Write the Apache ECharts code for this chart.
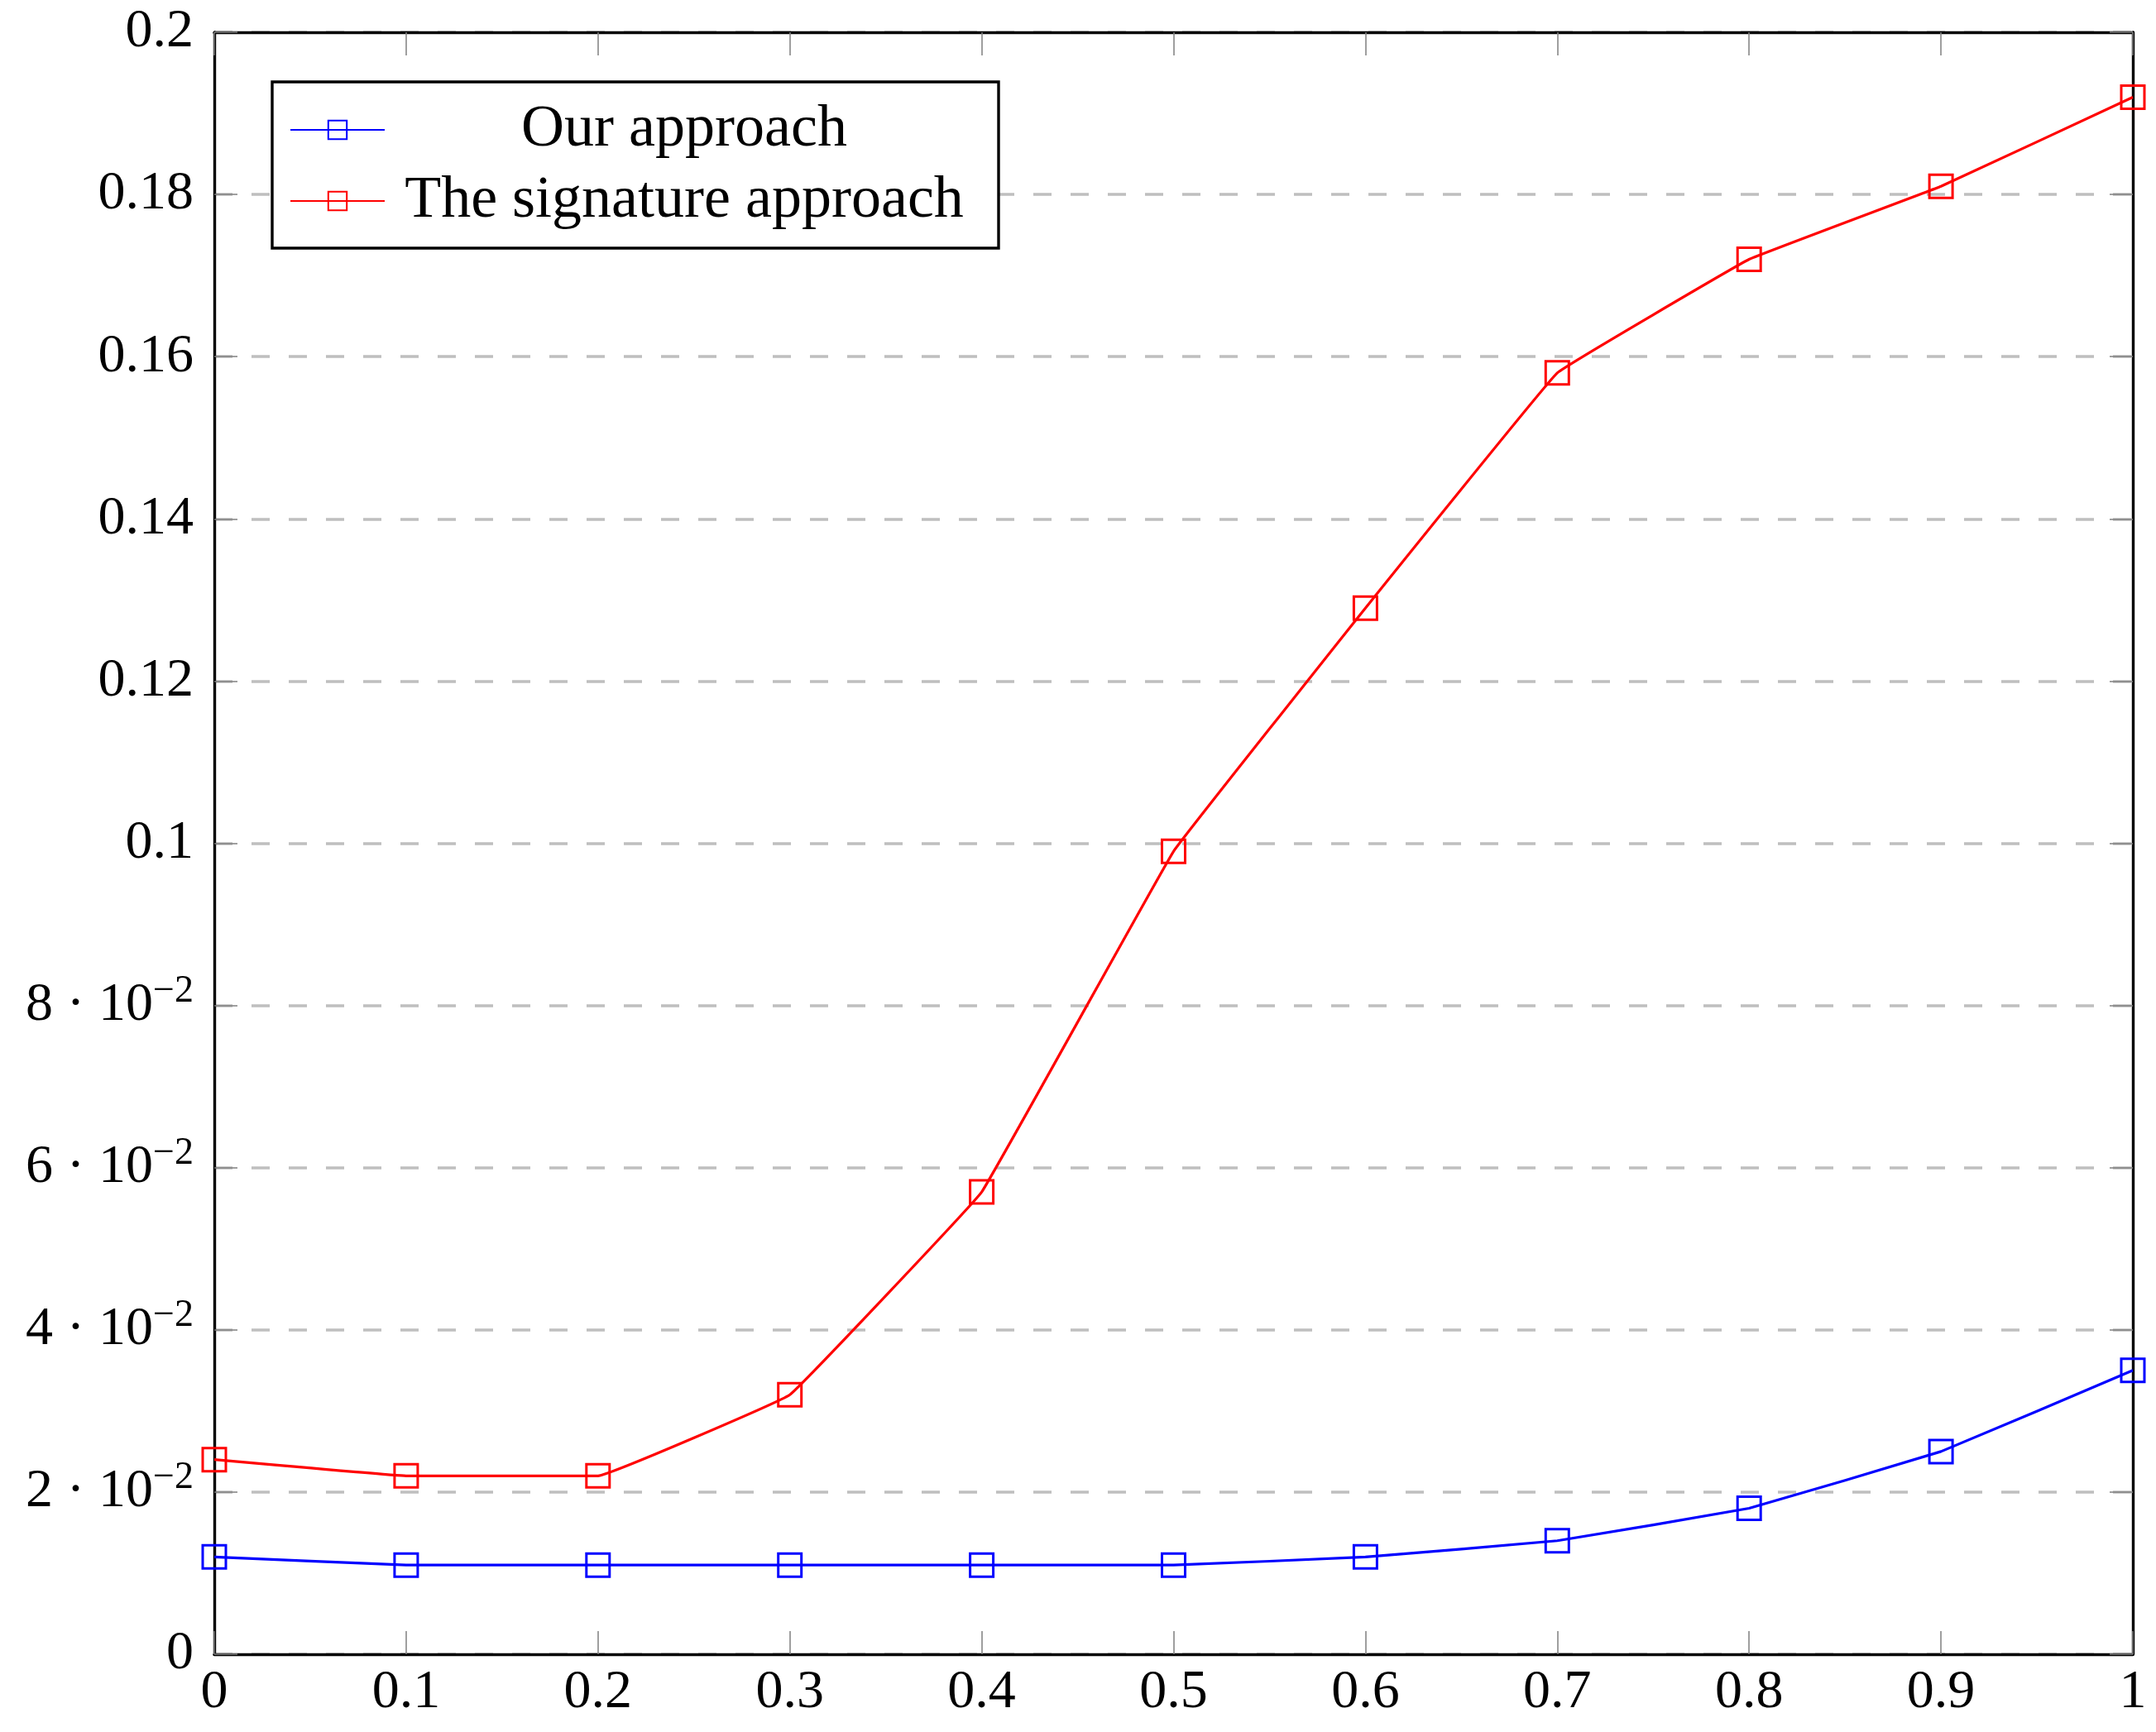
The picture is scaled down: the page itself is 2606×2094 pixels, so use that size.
<!DOCTYPE html>
<html>
<head>
<meta charset="utf-8">
<script src="https://cdn.jsdelivr.net/npm/echarts@6/dist/echarts.min.js"></script>
<style>
html,body{margin:0;padding:0;background:#fff;}
#chart{width:2606px;height:2094px;}
</style>
</head>
<body>
<div id="chart"></div>
<script>
// ---- data ----
const xValues = [0, 0.1, 0.2, 0.3, 0.4, 0.5, 0.6, 0.7, 0.8, 0.9, 1];
const ourApproach = [0.012, 0.011, 0.011, 0.011, 0.011, 0.011, 0.012, 0.014, 0.018, 0.025, 0.035];
const signatureApproach = [0.024, 0.022, 0.022, 0.032, 0.057, 0.099, 0.129, 0.158, 0.172, 0.181, 0.192];
const seriesNames = ['Our approach', 'The signature approach'];
const xTickLabels = ['0', '0.1', '0.2', '0.3', '0.4', '0.5', '0.6', '0.7', '0.8', '0.9', '1'];
// y tick labels: [mantissa, exponent] for scientific, or plain text
const yTickLabels = [
  ['0'], ['2', '−2'], ['4', '−2'], ['6', '−2'], ['8', '−2'],
  ['0.1'], ['0.12'], ['0.14'], ['0.16'], ['0.18'], ['0.2']
];

const FONT = '"Liberation Serif", "DejaVu Serif", serif';
const chart = echarts.init(document.getElementById('chart'), null, {renderer: 'canvas'});

function pairs(ys) { return xValues.map((x, i) => [x, ys[i]]); }

function yLabel(v) {
  const idx = Math.round(v / 0.02);
  const l = yTickLabels[idx];
  if (!l) return '';
  if (l.length === 1) return '{m|' + l[0] + '}';
  return '{m|' + l[0] + ' · 10}{s|' + l[1] + '}';
}
function xLabel(v) {
  const idx = Math.round(v / 0.1);
  return xTickLabels[idx] !== undefined ? xTickLabels[idx] : '';
}

const tickStyle = {show: true, inside: true, length: 28, lineStyle: {color: '#808080', width: 1.5}};
const axisLineStyle = {show: true, onZero: false, lineStyle: {color: '#000', width: 3.4}};

function makeSeries(name, ys, color) {
  return {
    name: name,
    type: 'line',
    data: pairs(ys),
    smooth: 0.05,
    symbol: 'rect',
    symbolSize: 28,
    color: color,
    lineStyle: {color: color, width: 3.2},
    itemStyle: {color: 'rgba(255,255,255,0)', borderColor: color, borderWidth: 3},
    emphasis: {disabled: true},
    z: 3
  };
}

const option = {
  backgroundColor: '#fff',
  animation: false,
  grid: {left: 259, right: 28, top: 39, bottom: 94, containLabel: false, outerBoundsMode: 'none'},
  legend: {
    orient: 'vertical',
    left: 329,
    top: 99,
    padding: [22, 23, 21, 21],
    itemGap: 14,
    itemWidth: 114,
    itemHeight: 28,
    borderColor: '#000',
    borderWidth: 3.4,
    backgroundColor: '#fff',
    data: seriesNames,
    formatter: name => '{t|' + name + '}',
    textStyle: {
      color: '#000',
      fontFamily: FONT,
      fontSize: 72,
      rich: {t: {width: 714, align: 'center', fontSize: 72, lineHeight: 70, fontFamily: FONT, color: '#000'}}
    }
  },
  xAxis: [
    {
      type: 'value', min: 0, max: 1, interval: 0.1, position: 'bottom',
      axisLine: axisLineStyle,
      axisTick: tickStyle,
      splitLine: {show: false},
      axisLabel: {formatter: xLabel, fontFamily: FONT, fontSize: 66, color: '#000', margin: 14}
    },
    {
      type: 'value', min: 0, max: 1, interval: 0.1, position: 'top',
      axisLine: axisLineStyle,
      axisTick: tickStyle,
      splitLine: {show: false},
      axisLabel: {show: false}
    }
  ],
  yAxis: [
    {
      type: 'value', min: 0, max: 0.2, interval: 0.02, position: 'left',
      axisLine: axisLineStyle,
      axisTick: tickStyle,
      splitLine: {show: true, lineStyle: {color: '#bfbfbf', width: 3.5, type: [22, 23]}},
      axisLabel: {
        formatter: yLabel, margin: 25, color: '#000',
        rich: {
          m: {fontFamily: FONT, fontSize: 66, color: '#000'},
          s: {fontFamily: FONT, fontSize: 46, color: '#000', padding: [0, 0, 34, 0]}
        }
      }
    },
    {
      type: 'value', min: 0, max: 0.2, interval: 0.02, position: 'right',
      axisLine: axisLineStyle,
      axisTick: tickStyle,
      splitLine: {show: false},
      axisLabel: {show: false}
    }
  ],
  series: [
    makeSeries(seriesNames[0], ourApproach, '#0000ff'),
    makeSeries(seriesNames[1], signatureApproach, '#ff0000')
  ]
};
chart.setOption(option);
</script>
</body>
</html>
